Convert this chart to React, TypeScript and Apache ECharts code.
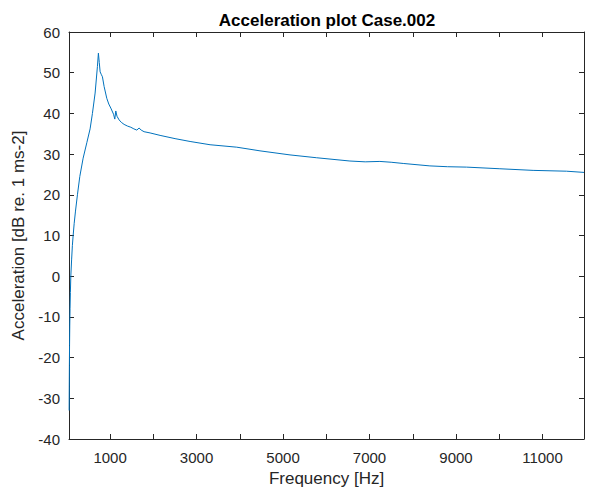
import React, { useEffect, useRef } from "react";
import * as echarts from "echarts";

const titleText = "Acceleration plot Case.002";
const xName = "Frequency [Hz]";
const yName = "Acceleration [dB re. 1 ms-2]";

const freqHz = [
  53, 56, 59, 63, 68, 74, 82, 92, 110, 128, 146, 170, 200, 245, 300, 377, 462,
  538, 592, 654, 707, 730, 750, 770, 800, 823, 862, 924, 970, 1017, 1080, 1109,
  1132, 1160, 1209, 1260, 1324, 1400, 1479, 1550, 1618, 1671, 1720, 1786, 1925,
  2156, 2503, 2850, 3312, 3929, 4467, 5161, 5778, 6547, 6900, 7240, 7500, 7779,
  8396, 8800, 9244, 10014, 10783, 11555, 11960,
];
const accelDb = [
  -33, -27, -22, -17, -12, -8, -4, 0, 4, 7.5, 10, 13, 16, 20, 24.5, 29, 32.8,
  36.2, 40, 45, 51.5, 54.8, 52.5, 50.2, 49.5, 49, 46.6, 43.7, 42.3, 41.3, 39.8,
  38.6, 40.6, 39.3, 38.4, 37.8, 37.3, 36.9, 36.6, 36.2, 35.9, 36.4, 35.9, 35.5,
  35.2, 34.6, 33.8, 33.1, 32.3, 31.7, 30.8, 29.8, 29.1, 28.3, 28.1, 28.2, 28.0,
  27.7, 27.1, 26.9, 26.8, 26.4, 26.0, 25.8, 25.5,
];
const xTicks = [1000, 2000, 3000, 4000, 5000, 6000, 7000, 8000, 9000, 10000, 11000];
const xLabels = [1000, 3000, 5000, 7000, 9000, 11000];
const yTicks = [-40, -30, -20, -10, 0, 10, 20, 30, 40, 50, 60];

const FONT = "'Liberation Sans', Arial, sans-serif";
const AX = "#262626";

export default function App() {
  const ref = useRef<HTMLDivElement>(null);
  useEffect(() => {
    if (!ref.current) return;
    const chart = echarts.init(ref.current, null, { renderer: "svg" });
    const data = freqHz.map((f, i) => [f, accelDb[i]]);
    const xBase = {
      type: "value" as const,
      min: 50,
      max: 11960,
      splitLine: { show: false },
      axisLine: { show: true, onZero: false, lineStyle: { color: AX, width: 1 } },
      axisTick: {
        show: true,
        inside: true,
        length: 5,
        customValues: xTicks,
        lineStyle: { color: AX },
      },
    };
    const yBase = {
      type: "value" as const,
      min: -40,
      max: 60,
      interval: 10,
      splitLine: { show: false },
      axisLine: { show: true, onZero: false, lineStyle: { color: AX, width: 1 } },
      axisTick: { show: true, inside: true, length: 5, customValues: yTicks, lineStyle: { color: AX } },
    };
    chart.setOption({
      animation: false,
      backgroundColor: "#ffffff",
      textStyle: { fontFamily: FONT },
      grid: {
        left: 69,
        top: 32,
        width: 515,
        height: 407,
        containLabel: false,
        outerBoundsMode: "none",
      },
      graphic: [
        {
          type: "text",
          x: 327,
          y: 20,
          style: {
            text: titleText,
            font: `bold 17px ${FONT}`,
            fill: "#000000",
            textAlign: "center",
            textVerticalAlign: "middle",
          },
        },
      ],
      xAxis: [
        {
          ...xBase,
          position: "bottom",
          name: xName,
          nameLocation: "middle",
          nameGap: 30,
          nameTextStyle: { color: AX, fontSize: 17, fontFamily: FONT },
          axisLabel: {
            show: true,
            customValues: xLabels,
            formatter: (v: number) => String(v),
            color: AX,
            fontSize: 15,
            margin: 11,
            fontFamily: FONT,
          },
        },
        {
          ...xBase,
          position: "top",
          axisLabel: { show: false },
        },
      ],
      yAxis: [
        {
          ...yBase,
          position: "left",
          name: yName,
          nameLocation: "middle",
          nameGap: 36,
          nameRotate: 90,
          nameTextStyle: { color: AX, fontSize: 17, fontFamily: FONT },
          axisLabel: {
            show: true,
            formatter: (v: number) => String(v),
            color: AX,
            fontSize: 15,
            margin: 9,
            fontFamily: FONT,
          },
        },
        {
          ...yBase,
          position: "right",
          axisLabel: { show: false },
        },
      ],
      series: [
        {
          type: "line",
          data,
          xAxisIndex: 0,
          yAxisIndex: 0,
          showSymbol: false,
          symbol: "none",
          lineStyle: { color: "#0072BD", width: 1 },
          itemStyle: { color: "#0072BD" },
        },
      ],
    });
    return () => chart.dispose();
  }, []);
  return (
    <div
      ref={ref}
      style={{ position: "fixed", left: 0, top: 0, width: 589, height: 488 }}
    />
  );
}
